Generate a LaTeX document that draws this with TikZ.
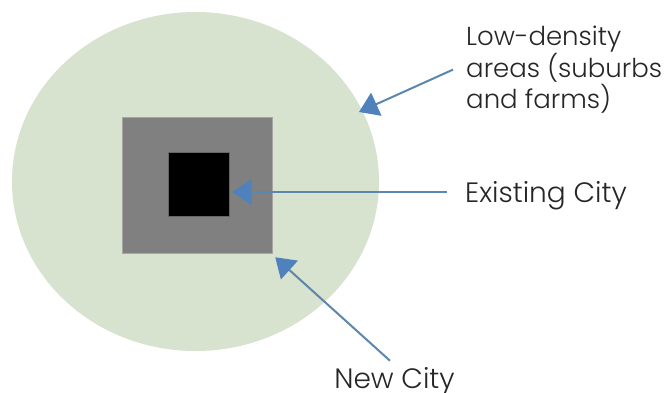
\documentclass[tikz,border=0pt]{standalone}
\usepackage{fontspec}
\setmainfont{Poppins}[UprightFont=* Light]
\usetikzlibrary{arrows.meta, positioning}
\definecolor{fieldgreen}{HTML}{D7E2CF}
\definecolor{arrowblue}{HTML}{4F81BD}
\definecolor{linkblue}{HTML}{5B87AF}
\definecolor{labelgray}{HTML}{262626}

\begin{document}
\begin{tikzpicture}[x=1pt,y=-1pt,
  >={Triangle[length=19pt,width=25pt,color=arrowblue]},
  lbl/.style={font=\fontsize{28}{28}\selectfont, text=labelgray, inner sep=0pt, align=left},
  pointer/.style={->, linkblue, line width=2pt}]
  \useasboundingbox (0,0) rectangle (664,392);
  \fill[fieldgreen] (195.5,181.5) ellipse [x radius=183.5pt, y radius=169.5pt];
  \node[fill=gray, draw=gray!70, line width=0.6pt, minimum width=150pt, minimum height=136pt, inner sep=0pt]
    (newcity) at (197,185) {};
  \node[fill=black, draw=gray!80!black, line width=0.6pt, minimum width=61pt, minimum height=64pt, inner sep=0pt]
    (city) at (198.5,184) {};
  \node[lbl, font=\fontsize{26}{28}\selectfont, anchor=base west] (lowlbl) at (466,108)
    {Low-density\\areas (suburbs\\and farms)};
  \node[lbl, anchor=base west] (citylbl) at (465,202) {Existing City};
  \node[lbl, anchor=base] (newlbl) at (394.5,388) {New City};
  \coordinate (lowtip) at (359,112);
  \coordinate (citytip) at ([xshift=3pt]city.east |- 0,192);
  \coordinate (newtip) at ([shift={(3pt,-4pt)}]newcity.south east);
  \draw[pointer] ([xshift=-13pt]lowlbl.west) -- (lowtip);
  \draw[pointer] ([xshift=-18pt]citylbl.west |- citytip) -- (citytip);
  \draw[pointer] ([shift={(-4.5pt,6pt)}]newlbl.north) -- (newtip);
\end{tikzpicture}
\end{document}
